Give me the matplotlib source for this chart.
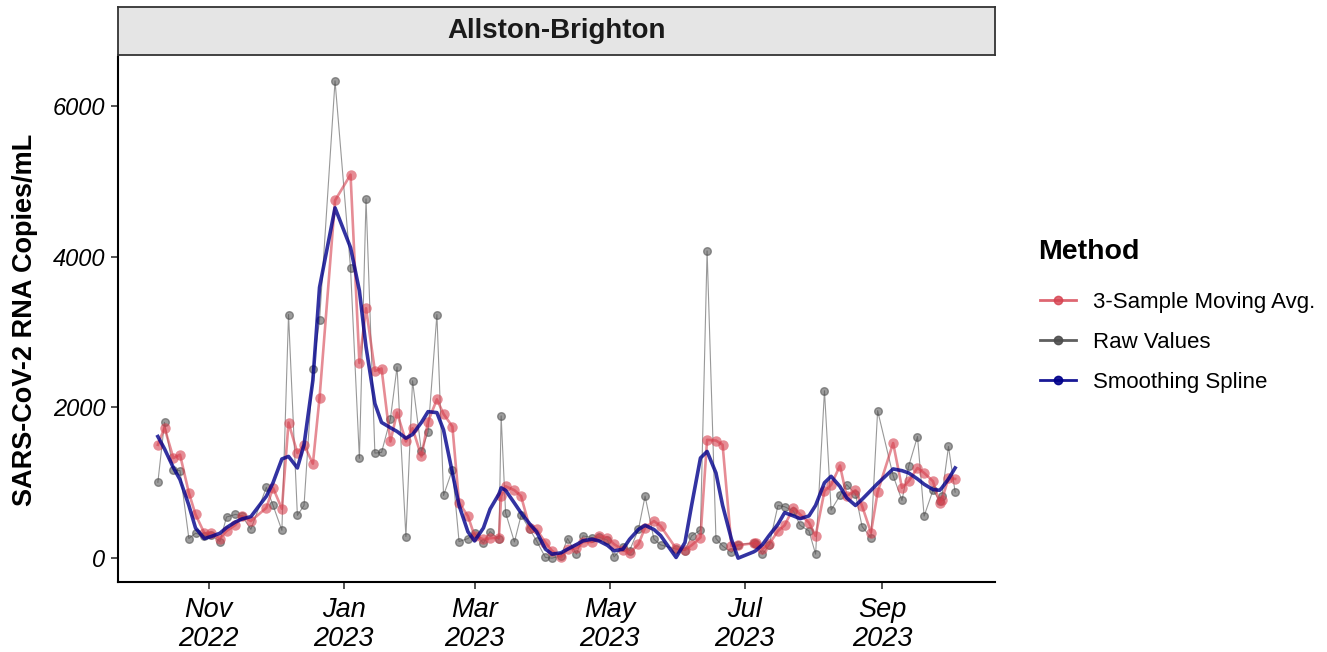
import matplotlib
matplotlib.use('Agg')
import matplotlib.pyplot as plt
import matplotlib.dates as mdates
from matplotlib.lines import Line2D
import numpy as np
import pandas as pd

plt.rcParams['font.family'] = ['Liberation Sans', 'DejaVu Sans']

# Sample dates and values
dates = [
    '2022-10-09', '2022-10-12', '2022-10-16', '2022-10-19', '2022-10-23', '2022-10-26',
    '2022-10-30', '2022-11-02', '2022-11-06', '2022-11-09', '2022-11-13', '2022-11-16',
    '2022-11-20', '2022-11-27', '2022-11-30', '2022-12-04', '2022-12-07', '2022-12-11',
    '2022-12-14', '2022-12-18', '2022-12-21', '2022-12-28', '2023-01-04', '2023-01-08',
    '2023-01-11', '2023-01-15', '2023-01-18', '2023-01-22', '2023-01-25', '2023-01-29',
    '2023-02-01', '2023-02-05', '2023-02-08', '2023-02-12', '2023-02-15', '2023-02-19',
    '2023-02-22', '2023-02-26', '2023-03-01', '2023-03-05', '2023-03-08', '2023-03-12',
    '2023-03-13', '2023-03-15', '2023-03-19', '2023-03-22', '2023-03-26', '2023-03-29',
    '2023-04-02', '2023-04-05', '2023-04-09', '2023-04-12', '2023-04-16', '2023-04-19',
    '2023-04-23', '2023-04-26', '2023-04-30', '2023-05-03', '2023-05-07', '2023-05-10',
    '2023-05-14', '2023-05-17', '2023-05-21', '2023-05-24', '2023-05-31', '2023-06-04',
    '2023-06-07', '2023-06-11', '2023-06-14', '2023-06-18', '2023-06-21', '2023-06-25',
    '2023-06-28', '2023-07-05', '2023-07-06', '2023-07-09', '2023-07-12', '2023-07-16',
    '2023-07-19', '2023-07-23', '2023-07-26', '2023-07-30', '2023-08-02', '2023-08-06',
    '2023-08-09', '2023-08-13', '2023-08-16', '2023-08-20', '2023-08-23', '2023-08-27',
    '2023-08-30', '2023-09-06', '2023-09-10', '2023-09-13', '2023-09-17', '2023-09-20',
    '2023-09-24', '2023-09-27', '2023-09-28', '2023-10-01', '2023-10-04',
]

raw_values = [
    1006, 1800, 1174, 1160, 260, 330,
    300, 310, 220, 545, 580, 560,
    382, 940, 700, 369, 3231, 567,
    699, 2506, 3152, 6330, 3847, 1323,
    4765, 1393, 1402, 1846, 2536, 286,
    2352, 1415, 1671, 3231, 831, 1174,
    220, 260, 330, 198, 352, 250,
    1886, 603, 215, 567, 380, 228,
    9, 0, 30, 260, 53, 295,
    273, 280, 240, 17, 150, 100,
    382, 822, 251, 176, 120, 100,
    295, 373, 4075, 260, 162, 75,
    180, 200, 190, 53, 170, 699,
    682, 624, 435, 360, 53, 2220,
    637, 831, 976, 850, 418, 273,
    1956, 1095, 765, 1217, 1613, 558,
    901, 760, 822, 1481, 875,
]

moving_avg = [
    1503, 1730, 1328, 1372, 866, 580,
    330, 338, 260, 360, 440, 558,
    492, 668, 932, 655, 1798, 1394,
    1503, 1253, 2125, 4744, 5086, 2589,
    3314, 2483, 2515, 1547, 1930, 1547,
    1723, 1349, 1811, 2106, 1912, 1745,
    734, 558, 295, 251, 264, 273,
    822, 953, 901, 822, 396, 382,
    207, 96, 10, 119, 128, 215,
    215, 295, 273, 185, 110, 66,
    185, 405, 492, 426, 128, 110,
    171, 273, 1569, 1560, 1503, 162,
    171, 198, 198, 119, 185, 360,
    435, 668, 580, 471, 295, 890,
    970, 1228, 822, 901, 690, 339,
    875, 1526, 932, 1019, 1196, 1130,
    1019, 734, 769, 1064, 1051,
]

spline = [
    1613, 1450, 1200, 1042, 700, 400,
    260, 286, 330, 405, 479, 520,
    550, 822, 1000, 1315, 1349, 1196,
    1503, 2360, 3591, 4646, 4119, 3547,
    2800, 2050, 1800, 1730, 1680, 1591,
    1640, 1800, 1943, 1930, 1700, 1130,
    700, 350, 228, 400, 650, 850,
    932, 900, 730, 600, 450, 350,
    120, 53, 70, 119, 180, 230,
    251, 230, 170, 96, 119, 250,
    380, 435, 380, 300, 9, 207,
    700, 1328, 1415, 1130, 700, 250,
    0, 83, 100, 180, 300, 450,
    603, 560, 523, 560, 700, 1000,
    1085, 950, 800, 699, 780, 900,
    990, 1183, 1160, 1130, 1050, 980,
    910, 900, 932, 1050, 1196,
]

tick_dates = ['2022-11-01', '2023-01-01', '2023-03-01', '2023-05-01', '2023-07-01', '2023-09-01']
tick_labels = ['Nov\n2022', 'Jan\n2023', 'Mar\n2023', 'May\n2023', 'Jul\n2023', 'Sep\n2023']
y_ticks = [0, 2000, 4000, 6000]

x = pd.to_datetime(dates)

red = '#D6404E'
gray = '#4D4D4D'
blue = '#00008B'

fig = plt.figure(figsize=(13.27, 6.52), dpi=100)
ax = fig.add_axes([118 / 1327, 70 / 652, 877 / 1327, 525 / 652])

# raw values
ax.plot(x, raw_values, color='#7F7F7F', lw=0.8, alpha=0.8, zorder=2)
ax.plot(x, raw_values, 'o', color=gray, ms=5.5, alpha=0.55, mec=gray, zorder=2)
# moving average
ax.plot(x, moving_avg, color=red, lw=1.9, alpha=0.6, zorder=3)
ax.plot(x, moving_avg, 'o', color=red, ms=7.5, alpha=0.6, mec='none', zorder=3)
# smoothing spline
ax.plot(x, spline, color=blue, lw=2.6, alpha=0.8, zorder=4)

# ggplot-style 5% expansion
xn = mdates.date2num(x)
span = xn.max() - xn.min()
ax.set_xlim(xn.min() - 0.05 * span, xn.max() + 0.05 * span)
ymax = max(raw_values)
ax.set_ylim(-0.05 * ymax, 1.05 * ymax)

ax.set_xticks(mdates.date2num(pd.to_datetime(tick_dates)))
ax.set_xticklabels(tick_labels, fontsize=19.5, style='italic', linespacing=1.15)
ax.set_yticks(y_ticks)
ax.set_yticklabels([str(v) for v in y_ticks], fontsize=17, style='italic')
ax.tick_params(axis='both', length=5, width=1.2, color='#333333', labelcolor='black')
ax.tick_params(axis='x', pad=6)
ax.tick_params(axis='y', pad=4)

for side in ['top', 'right']:
    ax.spines[side].set_visible(False)
for side in ['left', 'bottom']:
    ax.spines[side].set_linewidth(1.5)
    ax.spines[side].set_color('black')

ax.set_ylabel('SARS-CoV-2 RNA Copies/mL', fontsize=19.5, fontweight='bold', labelpad=11)

# facet strip
strip = fig.add_axes([118 / 1327, 597 / 652, 877 / 1327, 48 / 652])
strip.set_facecolor('#E5E5E5')
strip.set_xticks([])
strip.set_yticks([])
for s in strip.spines.values():
    s.set_linewidth(1.3)
    s.set_color('#333333')
strip.text(0.5, 0.5, 'Allston-Brighton', ha='center', va='center', fontsize=20,
           fontweight='bold', color='#1A1A1A', transform=strip.transAxes)

# legend
fig.text(1038 / 1327, 1 - 252 / 652, 'Method', ha='left', va='center',
         fontsize=20.5, fontweight='bold')
handles = [
    Line2D([0], [0], color=red, lw=2, marker='o', ms=6, alpha=0.8),
    Line2D([0], [0], color=gray, lw=2, marker='o', ms=6, alpha=0.9),
    Line2D([0], [0], color=blue, lw=2, marker='o', ms=6, alpha=0.9),
]
leg = fig.legend(handles, ['3-Sample Moving Avg.', 'Raw Values', 'Smoothing Spline'],
                 loc='upper left', bbox_to_anchor=(1020 / 1327, 1 - 272 / 652),
                 frameon=False, fontsize=16, handlelength=1.6,
                 labelspacing=0.85, handletextpad=0.8)

fig.savefig('out.png', dpi=100)
